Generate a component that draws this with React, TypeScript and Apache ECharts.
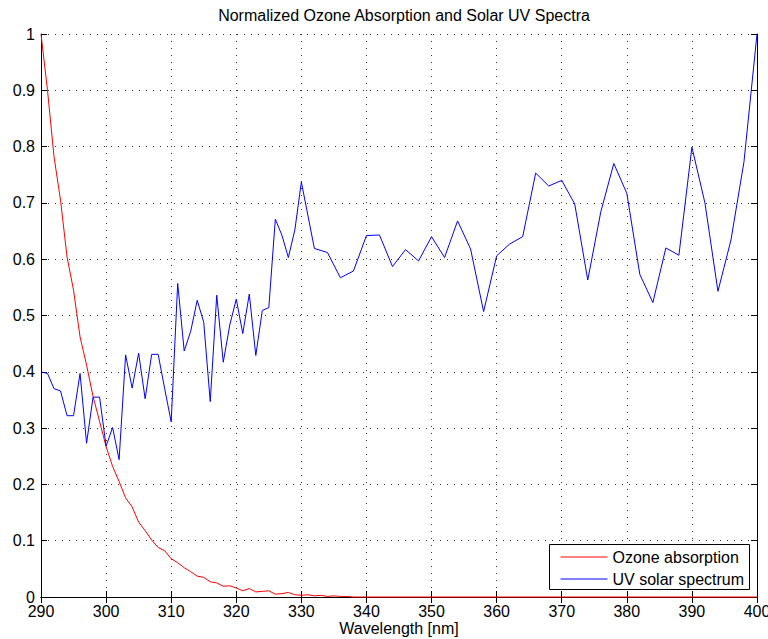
import React, { useEffect, useRef } from "react";
import * as echarts from "echarts";

// Ozone absorption cross-section (normalized), 1 nm steps from 290 to 340 nm, then flat zero to 400 nm
const ozoneWavelengths = [
  290, 291, 292, 293, 294, 295, 296, 297, 298, 299,
  300, 301, 302, 303, 304, 305, 306, 307, 308, 309,
  310, 311, 312, 313, 314, 315, 316, 317, 318, 319,
  320, 321, 322, 323, 324, 325, 326, 327, 328, 329,
  330, 331, 332, 333, 334, 335, 336, 337, 338, 339,
  340, 400,
];
const ozoneValues = [
  1.0, 0.9, 0.782, 0.705, 0.604, 0.545, 0.462, 0.412, 0.356, 0.312,
  0.267, 0.232, 0.205, 0.176, 0.16, 0.133, 0.118, 0.101, 0.088, 0.082,
  0.068, 0.061, 0.052, 0.045, 0.037, 0.035, 0.027, 0.025, 0.019, 0.02,
  0.016, 0.011, 0.015, 0.009, 0.01, 0.011, 0.005, 0.006, 0.008, 0.004,
  0.003, 0.004, 0.002, 0.003, 0.001, 0.002, 0.001, 0.001, 0.0, 0.0,
  0.0, 0.0,
];

// Solar UV spectrum (normalized): 1 nm steps up to 330 nm, 2 nm steps after
const uvWavelengths = [
  290, 291, 292, 293, 294, 295, 296, 297, 298, 299,
  300, 301, 302, 303, 304, 305, 306, 307, 308, 309,
  310, 311, 312, 313, 314, 315, 316, 317, 318, 319,
  320, 321, 322, 323, 324, 325, 326, 327, 328, 329,
  330, 332, 334, 336, 338, 340, 342, 344, 346, 348,
  350, 352, 354, 356, 358, 360, 362, 364, 366, 368,
  370, 372, 374, 376, 378, 380, 382, 384, 386, 388,
  390, 392, 394, 396, 398, 400,
];
const uvValues = [
  0.4, 0.397, 0.37, 0.366, 0.322, 0.322, 0.397, 0.273, 0.355, 0.355,
  0.268, 0.301, 0.244, 0.43, 0.371, 0.433, 0.352, 0.431, 0.431, 0.37,
  0.311, 0.557, 0.437, 0.472, 0.527, 0.488, 0.347, 0.536, 0.417, 0.483,
  0.529, 0.468, 0.538, 0.429, 0.509, 0.514, 0.671, 0.643, 0.603, 0.652,
  0.737, 0.619, 0.612, 0.567, 0.579, 0.642, 0.643, 0.587, 0.617, 0.597,
  0.64, 0.603, 0.668, 0.618, 0.507, 0.606, 0.627, 0.64, 0.753, 0.73,
  0.74, 0.698, 0.563, 0.684, 0.77, 0.717, 0.573, 0.523, 0.62, 0.607,
  0.799, 0.7, 0.543, 0.634, 0.773, 1.0,
];

const seriesNames = ["Ozone absorption", "UV solar spectrum"];
const FONT = "'Liberation Sans', Arial, Helvetica, sans-serif";

export default function App() {
  const ref = useRef<HTMLDivElement>(null);

  useEffect(() => {
    if (!ref.current) return;
    const chart = echarts.init(ref.current, undefined, { renderer: "svg" });

    const gridLine = { show: true, lineStyle: { color: "#333", width: 1, type: [1, 6] as any } };
    const tick = { show: true, inside: true, length: 6, lineStyle: { color: "#000" } };
    const axisLine = { show: true, lineStyle: { color: "#000", width: 1 } };
    const label = { color: "#000", fontSize: 16, fontFamily: FONT };

    chart.setOption({
      animation: false,
      backgroundColor: "#fff",
      title: {
        text: "Normalized Ozone Absorption and Solar UV Spectra",
        left: 399,
        top: 2,
        textAlign: "center",
        textStyle: { color: "#000", fontSize: 16, fontWeight: "normal", fontFamily: FONT },
      },
      grid: {
        left: 41,
        right: 11,
        top: 34,
        bottom: 42,
        containLabel: false,
        outerBoundsMode: "none",
      },
      // legend frame
      graphic: [
        {
          type: "rect",
          left: 549,
          top: 544,
          z: 10,
          shape: { width: 200, height: 45 },
          style: { fill: "#fff", stroke: "#000", lineWidth: 1 },
        },
      ],
      legend: {
        orient: "vertical",
        left: 549,
        top: 544,
        z: 20,
        padding: [5, 4, 6, 11],
        itemGap: 6,
        itemWidth: 47,
        itemHeight: 14,
        data: seriesNames,
        itemStyle: { opacity: 0 },
        lineStyle: { width: 1 },
        textStyle: { color: "#000", fontSize: 16, fontFamily: FONT },
      },
      xAxis: [
        {
          type: "value",
          min: 290,
          max: 400,
          interval: 10,
          position: "bottom",
          name: "Wavelength [nm]",
          nameLocation: "middle",
          nameGap: 23,
          nameMoveOverlap: false,
          nameTextStyle: label,
          axisLine,
          axisTick: tick,
          axisLabel: { ...label, margin: 6 },
          splitLine: gridLine,
        },
        {
          type: "value",
          min: 290,
          max: 400,
          interval: 10,
          position: "top",
          axisLine,
          axisTick: tick,
          axisLabel: { show: false },
          splitLine: { show: false },
        },
      ],
      yAxis: [
        {
          type: "value",
          min: 0,
          max: 1,
          interval: 0.1,
          position: "left",
          axisLine,
          axisTick: tick,
          axisLabel: { ...label, margin: 6 },
          splitLine: gridLine,
        },
        {
          type: "value",
          min: 0,
          max: 1,
          interval: 0.1,
          position: "right",
          axisLine,
          axisTick: tick,
          axisLabel: { show: false },
          splitLine: { show: false },
        },
      ],
      series: [
        {
          name: seriesNames[0],
          type: "line",
          symbol: "none",
          clip: false,
          data: ozoneWavelengths.map((w, i) => [w, ozoneValues[i]]),
          lineStyle: { color: "#ff0000", width: 1 },
          itemStyle: { color: "#ff0000" },
        },
        {
          name: seriesNames[1],
          type: "line",
          symbol: "none",
          clip: false,
          data: uvWavelengths.map((w, i) => [w, uvValues[i]]),
          lineStyle: { color: "#0000ff", width: 1 },
          itemStyle: { color: "#0000ff" },
        },
      ],
    });

    return () => chart.dispose();
  }, []);

  return (
    <div
      ref={ref}
      style={{ position: "fixed", left: 0, top: 0, width: 768, height: 639 }}
    />
  );
}
